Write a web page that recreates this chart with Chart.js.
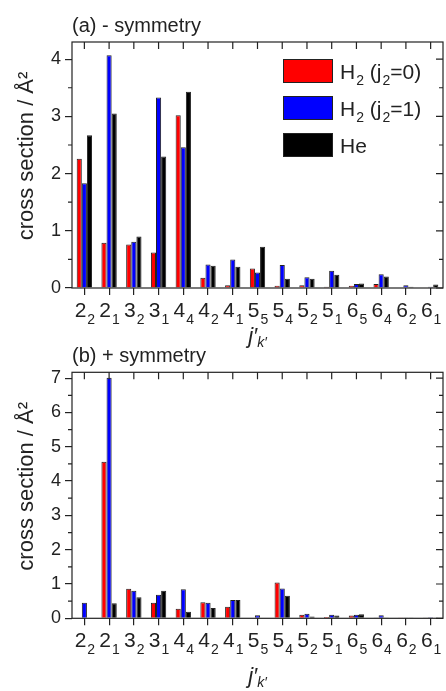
<!DOCTYPE html>
<html>
<head>
<meta charset="utf-8">
<script src="https://cdn.jsdelivr.net/npm/chart.js@4.4.0/dist/chart.umd.min.js"></script>
<style>
  html, body { margin: 0; padding: 0; background: #fff; }
  #wrap { position: relative; width: 446px; height: 691px; overflow: hidden; }
  canvas { position: absolute; left: 0; }
  #chartA { top: 0; }
  #chartB { top: 335px; }
</style>
</head>
<body>
<div id="wrap">
  <canvas id="chartA" width="446" height="355"></canvas>
  <canvas id="chartB" width="446" height="356"></canvas>
</div>
<script>
// final rotational levels j'_k'
const levels = ['2₂', '2₁', '3₂', '3₁', '4₄', '4₂', '4₁', '5₅', '5₄', '5₂', '5₁', '6₅', '6₄', '6₂', '6₁'];
const seriesNames = ['H₂ (j₂=0)', 'H₂ (j₂=1)', 'He'];
const seriesColors = ['#ff0000', '#0000ff', '#000000'];

// (a) - symmetry
const h2j0Minus = [2.26, 0.79, 0.76, 0.62, 3.02, 0.18, 0.05, 0.34, 0.04, 0.05, 0.02, 0.04, 0.07, 0.01, 0.01];
const h2j1Minus = [1.83, 4.07, 0.81, 3.33, 2.46, 0.41, 0.50, 0.27, 0.40, 0.19, 0.30, 0.07, 0.24, 0.05, 0.02];
const heMinus   = [2.67, 3.05, 0.90, 2.30, 3.43, 0.39, 0.37, 0.72, 0.16, 0.16, 0.23, 0.08, 0.20, 0.02, 0.06];

// (b) + symmetry
const h2j0Plus = [0, 4.56, 0.86, 0.45, 0.28, 0.47, 0.34, 0, 1.04, 0.10, 0.04, 0.08, 0.01, 0.005, 0.01];
const h2j1Plus = [0.45, 7.01, 0.80, 0.69, 0.85, 0.45, 0.53, 0.09, 0.87, 0.13, 0.10, 0.10, 0.09, 0.01, 0.03];
const hePlus   = [0, 0.44, 0.61, 0.80, 0.19, 0.30, 0.53, 0, 0.66, 0.05, 0.08, 0.12, 0.01, 0.01, 0.02];

const FONT = "'Liberation Sans', Arial, sans-serif";
const INK = '#222';

// split "H₂ (j₂=0)" into runs, subscript digits become {sub:true}
function runs(text) {
    const out = [];
    for (const ch of text) {
        const c = ch.codePointAt(0);
        const sub = c >= 0x2080 && c <= 0x2089;
        const t = sub ? String.fromCharCode(c - 0x2080 + 48) : ch;
        const last = out[out.length - 1];
        if (last && last.sub === sub) last.t += t;
        else out.push({ t, sub });
    }
    return out;
}

// draws text with real subscripts; align 'left' or 'center'
function drawRich(ctx, text, x, y, size, subSize, drop, align) {
    const parts = runs(text);
    const w = parts.map(p => {
        ctx.font = `${p.sub ? subSize : size}px ${FONT}`;
        return ctx.measureText(p.t).width;
    });
    let cx = align === 'center' ? x - w.reduce((s, v) => s + v, 0) / 2 : x;
    ctx.textAlign = 'left';
    ctx.textBaseline = 'alphabetic';
    parts.forEach((p, i) => {
        ctx.font = `${p.sub ? subSize : size}px ${FONT}`;
        ctx.fillText(p.t, cx, p.sub ? y + drop : y);
        cx += w[i] + (p.sub ? 0 : 1);
    });
}

// box, minor ticks, ticks on top / right side
const framePlugin = {
    id: 'frame',
    afterDatasetsDraw(chart) {
        const { ctx, chartArea: a, scales: { x, y } } = chart;
        ctx.save();
        ctx.strokeStyle = INK;
        ctx.lineWidth = 1.2;
        ctx.strokeRect(a.left, a.top, a.right - a.left, a.bottom - a.top);
        ctx.beginPath();
        x.ticks.forEach((t, i) => {
            const px = x.getPixelForTick(i);
            ctx.moveTo(px, a.top);
            ctx.lineTo(px, a.top + 7);
        });
        for (let v = 0; v <= y.max; v += 0.5) {
            const py = y.getPixelForValue(v);
            const major = v % 1 === 0;
            ctx.moveTo(a.right, py);
            ctx.lineTo(a.right - (major ? 7 : 4), py);
            if (!major) {
                ctx.moveTo(a.left, py);
                ctx.lineTo(a.left - 4, py);
            }
        }
        ctx.stroke();
        ctx.restore();
    }
};

// panel label, level labels, axis titles and the in-plot legend
const textPlugin = {
    id: 'panelText',
    afterDraw(chart, args, opts) {
        const { ctx, chartArea: a, scales: { x } } = chart;
        ctx.save();
        ctx.fillStyle = INK;

        // panel label
        ctx.font = `20px ${FONT}`;
        ctx.textAlign = 'left';
        ctx.textBaseline = 'alphabetic';
        ctx.fillText(opts.label, a.left, a.top - 10);

        // level labels under the ticks
        chart.data.labels.forEach((lab, i) => {
            drawRich(ctx, lab, x.getPixelForTick(i), a.bottom + 29, 21, 14, 7, 'center');
        });

        // y title
        ctx.save();
        ctx.translate(33, (a.top + a.bottom) / 2 - 9);
        ctx.rotate(-Math.PI / 2);
        ctx.textAlign = 'center';
        ctx.font = `22px ${FONT}`;
        ctx.fillText('cross section / Å²', 0, 0);
        ctx.restore();

        // x title j'_k'
        const main = 'j′', sub = 'k′';
        ctx.font = `italic 22px ${FONT}`;
        const w1 = ctx.measureText(main).width;
        ctx.font = `italic 14px ${FONT}`;
        const w2 = ctx.measureText(sub).width;
        const cx = (a.left + a.right) / 2;
        const base = a.bottom + opts.xTitleOffset;
        const x0 = cx - (w1 + w2) / 2;
        ctx.textAlign = 'left';
        ctx.font = `italic 22px ${FONT}`;
        ctx.fillText(main, x0, base);
        ctx.font = `italic 14px ${FONT}`;
        ctx.fillText(sub, x0 + w1, base + 4);

        // legend
        if (opts.legend) {
            const bx = a.left + 211;
            let by = a.top + 17;
            chart.data.datasets.forEach(ds => {
                ctx.fillStyle = ds.backgroundColor;
                ctx.fillRect(bx, by, 50, 24);
                ctx.strokeStyle = INK;
                ctx.lineWidth = 1;
                ctx.strokeRect(bx + 0.5, by + 0.5, 49, 23);
                ctx.fillStyle = INK;
                drawRich(ctx, ds.label, bx + 57, by + 20, 21, 14, 6, 'left');
                by += 37;
            });
        }
        ctx.restore();
    }
};

function makeChart(id, label, series, yMax, geom) {
    const canvas = document.getElementById(id);
    return new Chart(canvas.getContext('2d'), {
        type: 'bar',
        data: {
            labels: levels,
            datasets: series.map((d, i) => ({
                label: seriesNames[i],
                data: d,
                backgroundColor: seriesColors[i],
                borderColor: INK,
                borderWidth: 1,
                barPercentage: 1,
                categoryPercentage: 0.62
            }))
        },
        options: {
            responsive: false,
            animation: false,
            devicePixelRatio: 1,
            layout: { padding: { top: geom.top, right: 3, left: 0, bottom: 0 } },
            plugins: {
                legend: { display: false },
                tooltip: { enabled: false },
                title: { display: false },
                panelText: { label: label, legend: geom.legend, xTitleOffset: geom.xTitleOffset }
            },
            scales: {
                x: {
                    offset: true,
                    grid: { offset: false, drawOnChartArea: false, drawTicks: true, tickLength: 7, color: INK, lineWidth: 1.2 },
                    border: { display: false },
                    ticks: { display: false, autoSkip: false },
                    afterFit: s => { s.height = canvas.height - geom.bottom; }
                },
                y: {
                    min: 0,
                    max: yMax,
                    grid: { drawOnChartArea: false, drawTicks: true, tickLength: 7, color: INK, lineWidth: 1.2 },
                    border: { display: false },
                    ticks: { stepSize: 1, includeBounds: false, font: { family: FONT, size: 18 }, color: INK, padding: 4 },
                    afterFit: s => { s.width = 72; }
                }
            }
        },
        plugins: [framePlugin, textPlugin]
    });
}

makeChart('chartA', '(a) - symmetry', [h2j0Minus, h2j1Minus, heMinus], 4.3,
    { top: 42, bottom: 288, legend: true, xTitleOffset: 55 });
makeChart('chartB', '(b) + symmetry', [h2j0Plus, h2j1Plus, hePlus], 7.17,
    { top: 37.3, bottom: 283.3, legend: false, xTitleOffset: 65 });
</script>
</body>
</html>
